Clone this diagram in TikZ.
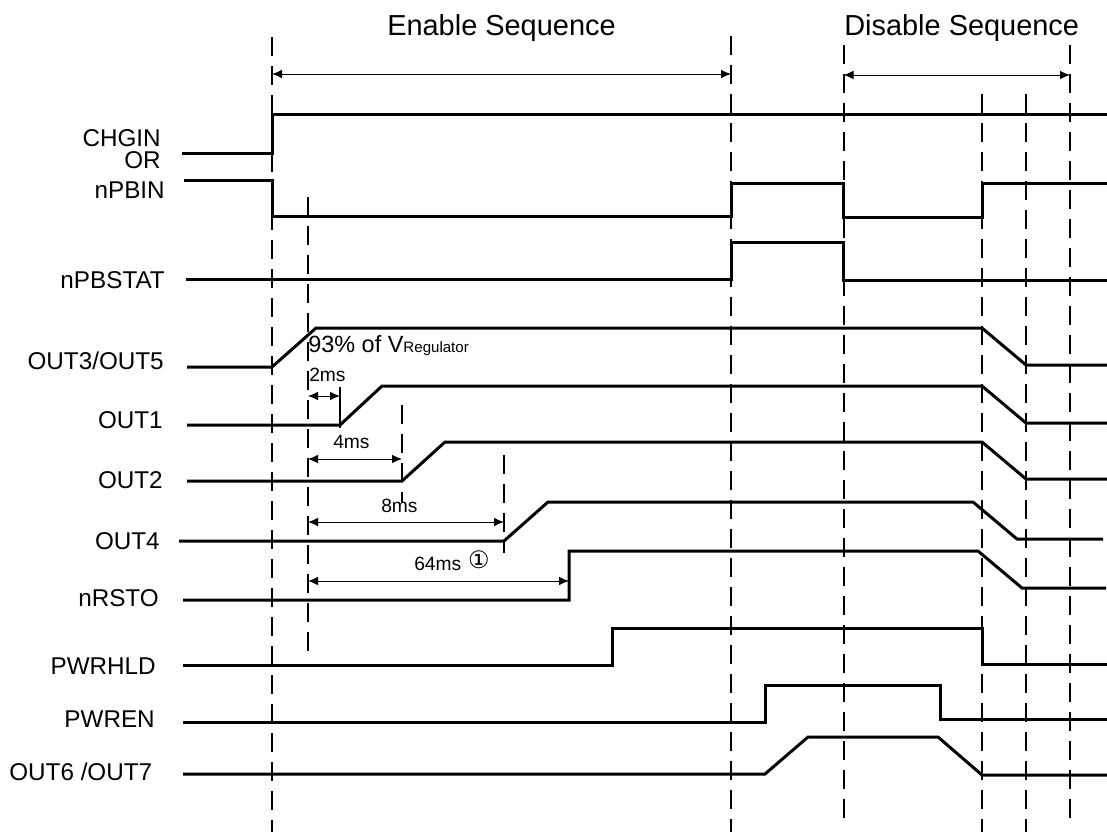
\documentclass[tikz,border=0pt]{standalone}
\usepackage{fontspec}
\setmainfont{Liberation Sans}
\newfontfamily\symfont{DejaVu Sans}
\usetikzlibrary{arrows.meta}
\tikzset{
  px/.style={x=0.75pt,y=-0.75pt},
  wave/.style={line width=2.25pt,line join=miter},
  guide/.style={line width=1.5pt,dash pattern=on 14.25pt off 7.5pt},
  span/.style={line width=0.75pt,{Latex[length=7.5pt,width=6.5pt]}-{Latex[length=7.5pt,width=6.5pt]}},
  sig/.style={anchor=base east,inner sep=0pt,font=\fontsize{18.2pt}{18.2pt}\selectfont},
  title/.style={anchor=base west,inner sep=0pt,font=\fontsize{21.7pt}{21.7pt}\selectfont},
  note/.style={anchor=base west,inner sep=0pt,font=\fontsize{14.4pt}{14.4pt}\selectfont},
}
\begin{document}
\begin{tikzpicture}[px]
\useasboundingbox[fill=white] (0,0) rectangle (1107,832);
% guides
\draw[guide] (272,37) -- (272,832);
\draw[guide] (731,36) -- (731,832);
\draw[guide] (843.5,45) -- (843.5,818);
\draw[guide] (982,94) -- (982,832);
\draw[guide] (1026,94) -- (1026,832);
\draw[guide] (1070,45) -- (1070,818);
\draw[guide] (308,197) -- (308,652);
\draw[guide] (402,405) -- (402,502);
\draw[guide] (504,455) -- (504,553);
\draw[line width=1.5pt] (340,387) -- (340,428);
% waves
\draw[wave] (182,153) -- (272,153) -- (272,114) -- (1107,114);
\draw[wave] (184,180) -- (272,180) -- (272,216.5) -- (731,216.5) -- (731,183) -- (843,183) -- (843,217) -- (982,217) -- (982,183) -- (1107,183);
\draw[wave] (186,279) -- (731,279) -- (731,242) -- (843,242) -- (843,280) -- (1107,280);
\draw[wave] (187,367) -- (272,367) -- (316,328) -- (982,328) -- (1026,365) -- (1107,365);
\draw[wave] (187,425) -- (340,425) -- (382,386) -- (982,386) -- (1026,423) -- (1107,423);
\draw[wave] (187,481) -- (402,481) -- (445,442) -- (982,442) -- (1026,479) -- (1107,479);
\draw[wave] (179,541) -- (504,541) -- (548,502) -- (973,502) -- (1017,539) -- (1103,539);
\draw[wave] (183,600) -- (569,600) -- (569,551) -- (978,551) -- (1022,588) -- (1106,588);
\draw[wave] (183,665) -- (612,665) -- (612,628) -- (982,628) -- (982,664) -- (1107,664);
\draw[wave] (183,722) -- (765,722) -- (765,685) -- (940,685) -- (940,719) -- (1107,719);
\draw[wave] (183,774) -- (765,774) -- (808,737) -- (938,737) -- (982,775) -- (1107,775);
% spans
\coordinate (e0) at (272,74); \coordinate (e1) at (731,74);
\coordinate (d0) at (843.5,75); \coordinate (d1) at (1070,75);
\coordinate (a0) at (308,396); \coordinate (a1) at (340,396);
\coordinate (b0) at (308,459); \coordinate (b1) at (402,459);
\coordinate (c0) at (308,522); \coordinate (c1) at (504,522);
\coordinate (f0) at (308,581); \coordinate (f1) at (569,581);
\draw[span] (e0) -- (e1);
\draw[span] (d0) -- (d1);
\draw[span] (a0) -- (a1);
\draw[span] (b0) -- (b1);
\draw[span] (c0) -- (c1);
\draw[span] (f0) -- (f1);
% labels
\node[title] (tE) at (387,35) {Enable Sequence};
\node[title] (tD) at (844,35) {Disable Sequence};
\node[sig] (l1) at (161,146) {CHGIN};
\node[sig] (l1b) at (161,168) {OR};
\node[sig] (l2) at (165,198) {nPBIN};
\node[sig] (l3) at (165,288) {nPBSTAT};
\node[sig] (l4) at (164,369) {OUT3/OUT5};
\node[sig] (l5) at (163,428) {OUT1};
\node[sig] (l6) at (163,488) {OUT2};
\node[sig] (l7) at (160,549) {OUT4};
\node[sig] (l8) at (159,606) {nRSTO};
\node[sig] (l9) at (156,674) {PWRHLD};
\node[sig] (l10) at (155,727) {PWREN};
\node[sig] (l11) at (152.5,780) {OUT6 /OUT7};
\node[anchor=base west,inner sep=0pt,font=\fontsize{17.6pt}{17.6pt}\selectfont] (n93) at (308,352) {93\% of V{\fontsize{11.3pt}{11.3pt}\selectfont Regulator}};
\node[note] (n2) at (309,381) {2ms};
\node[note] (n4) at (333,448) {4ms};
\node[note] (n8) at (381,512) {8ms};
\node[note] (n64) at (414,570) {64ms};
\node[inner sep=0pt,font=\symfont\fontsize{18pt}{18pt}\selectfont] (n1) at (479,560) {①};
\end{tikzpicture}
\end{document}
